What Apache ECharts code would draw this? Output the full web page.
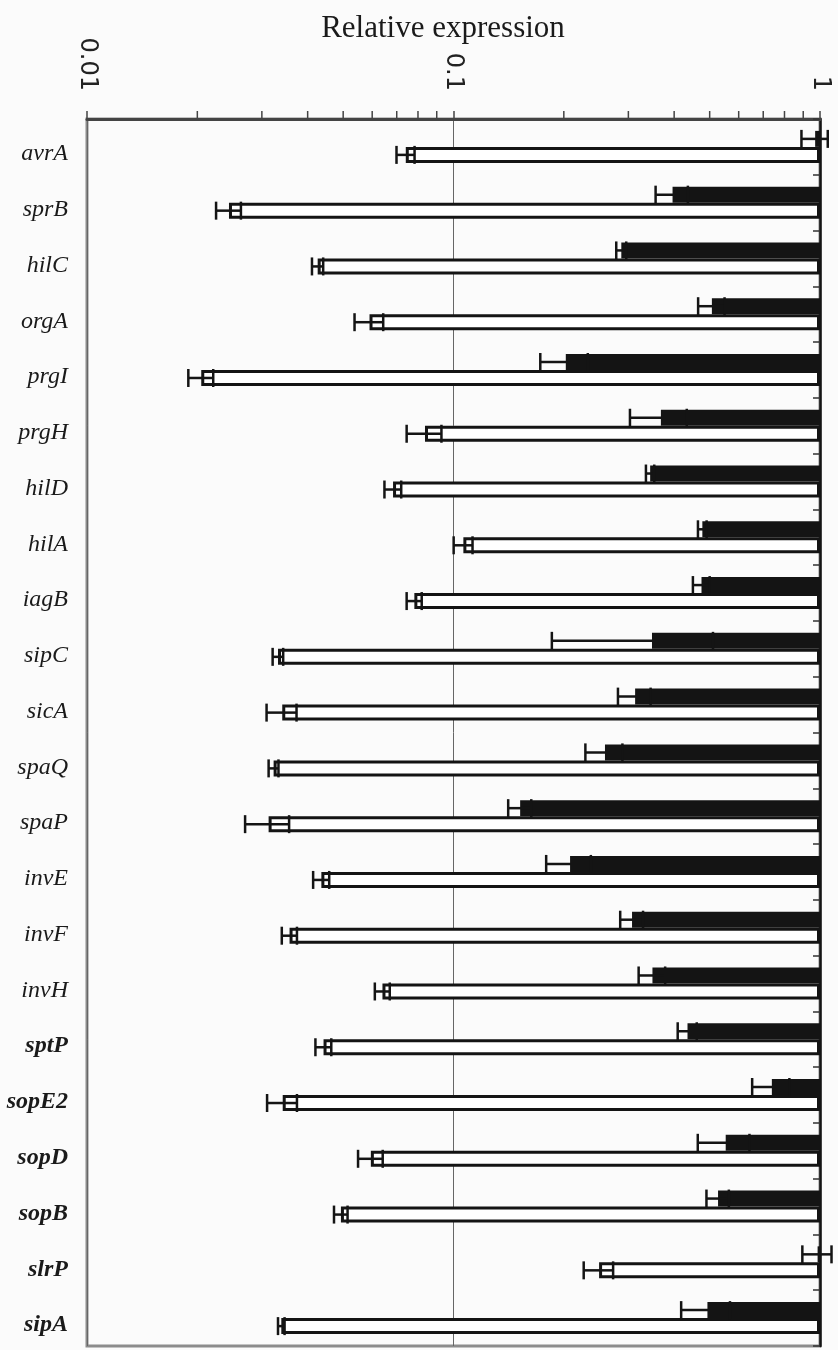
<!DOCTYPE html>
<html><head><meta charset="utf-8">
<script src="https://cdn.jsdelivr.net/npm/echarts@6/dist/echarts.min.js"></script>
<style>html,body{margin:0;padding:0;background:#fbfbfb}#chart{width:838px;height:1350px}</style>
</head><body><div id="chart"></div>
<script>
// ---- data ----
const genes = ['avrA','sprB','hilC','orgA','prgI','prgH','hilD','hilA','iagB','sipC','sicA','spaQ','spaP','invE','invF','invH','sptP','sopE2','sopD','sopB','slrP','sipA'];
const boldGenes = ['sptP','sopE2','sopD','sopB','slrP','sipA'];
const blackValues = [0.97,0.396,0.287,0.507,0.2025,0.368,0.344,0.4775,0.475,0.348,0.313,0.259,0.152,0.208,0.307,0.349,0.435,0.739,0.553,0.527,0.985,0.493];
const blackErrors = [0.08,0.040,0.009,0.042,0.030,0.065,0.009,0.013,0.025,0.1625,0.032,0.030,0.011,0.029,0.022,0.029,0.026,0.086,0.089,0.037,0.09,0.075];
const whiteValues = [0.0741,0.0244,0.0426,0.0590,0.0205,0.0836,0.0684,0.1064,0.0782,0.0332,0.0341,0.0323,0.0313,0.0436,0.0357,0.0640,0.0442,0.0342,0.0595,0.0493,0.2496,0.0339];
const whiteErrors = [0.0042,0.0019,0.0015,0.0053,0.0016,0.0091,0.0036,0.0063,0.0037,0.0011,0.0032,0.0010,0.0043,0.0022,0.0017,0.0030,0.0022,0.0032,0.0046,0.0021,0.023,0.0007];
const axisTickValues = [0.01, 0.1, 1];
const axisTickLabels = ['0.01', '0.1', '1'];
const minorTickValues = [0.02,0.03,0.04,0.05,0.06,0.07,0.08,0.09,0.2,0.3,0.4,0.5,0.6,0.7,0.8,0.9];

// ---- build ----
const BAR = 16, CAP = 18;
const errData = [];
genes.forEach((g, i) => {
  errData.push([blackValues[i] - blackErrors[i], blackValues[i] + blackErrors[i], i, -1]);
  errData.push([whiteValues[i] - whiteErrors[i], whiteValues[i] + whiteErrors[i], i, 1]);
});

const chart = echarts.init(document.getElementById('chart'), null, {renderer: 'canvas'});
const ink = '#141414';
chart.setOption({
  backgroundColor: '#fbfbfb',
  animation: false,
  title: {
    text: 'Relative expression', left: 438, top: 8, textAlign: 'center',
    textStyle: {fontFamily: 'Liberation Serif', fontSize: 31, fontWeight: 'normal', color: '#1a1a1a'}
  },
  grid: {left: 87, top: 119, width: 733, height: 1227, show: true, borderColor: '#8c8c8c', borderWidth: 3, backgroundColor: 'transparent'},
  xAxis: {
    type: 'log', logBase: 10, min: 0.01, max: 1, position: 'top',
    axisLine: {show: true, lineStyle: {color: '#444', width: 3}},
    axisTick: {show: true, inside: false, length: 8, lineStyle: {color: '#444', width: 1.5}},
    axisLabel: {
      rotate: 90, margin: 28, fontFamily: 'DejaVu Sans', fontSize: 24, color: '#222',
      formatter: v => { const k = axisTickValues.findIndex(t => Math.abs(t - v) / t < 1e-6); return k >= 0 ? axisTickLabels[k] : ''; }
    },
    splitLine: {show: true, lineStyle: {color: '#666', width: 1}}
  },
  yAxis: [
    {
      type: 'category', data: genes, inverse: true, position: 'left',
      axisLine: {show: false}, axisTick: {show: false},
      axisLabel: {
        margin: 19, padding: [14, 0, 0, 0],
        formatter: name => boldGenes.includes(name) ? '{b|' + name + '}' : '{n|' + name + '}',
        rich: {
          n: {fontFamily: 'Liberation Serif', fontSize: 24, fontStyle: 'italic', fontWeight: 'normal', color: '#1a1a1a'},
          b: {fontFamily: 'Liberation Serif', fontSize: 24, fontStyle: 'italic', fontWeight: 'bold', color: '#1a1a1a'}
        }
      }
    },
    {
      type: 'category', data: genes, inverse: true, position: 'right',
      axisLine: {show: true, lineStyle: {color: ink, width: 2.5}},
      axisTick: {show: true, inside: true, length: 7, lineStyle: {color: '#333', width: 1.5}},
      axisLabel: {show: false}
    }
  ],
  series: [
    {type: 'bar', name: 'black', yAxisIndex: 0, data: blackValues, barWidth: BAR, barGap: '0%', itemStyle: {color: ink}, z: 2},
    {type: 'bar', name: 'white', yAxisIndex: 0, data: whiteValues, barWidth: BAR, barGap: '0%', itemStyle: {color: '#fff', borderColor: ink, borderWidth: 3}, z: 2},
    {
      type: 'custom', name: 'errors', yAxisIndex: 0, data: errData, encode: {x: [0, 1], y: 2}, z: 5,
      renderItem: (params, api) => {
        const lo = api.coord([api.value(0), api.value(2)]);
        const hi = api.coord([api.value(1), api.value(2)]);
        const y = lo[1] + api.value(3) * BAR / 2;
        const st = {stroke: ink, lineWidth: 2.5};
        return {type: 'group', children: [
          {type: 'line', shape: {x1: lo[0], y1: y, x2: hi[0], y2: y}, style: st},
          {type: 'line', shape: {x1: lo[0], y1: y - CAP / 2, x2: lo[0], y2: y + CAP / 2}, style: st},
          {type: 'line', shape: {x1: hi[0], y1: y - CAP / 2, x2: hi[0], y2: y + CAP / 2}, style: st}
        ]};
      }
    },
    {
      type: 'custom', name: 'minorTicks', yAxisIndex: 0, data: minorTickValues.map(v => [v, 0]), encode: {x: 0, y: 1}, z: 5,
      renderItem: (params, api) => {
        const p = api.coord([api.value(0), 0]);
        const top = params.coordSys.y;
        return {type: 'line', shape: {x1: p[0], y1: top, x2: p[0], y2: top - 8}, style: {stroke: '#444', lineWidth: 1.5}};
      }
    }
  ]
});
</script>
</body></html>
